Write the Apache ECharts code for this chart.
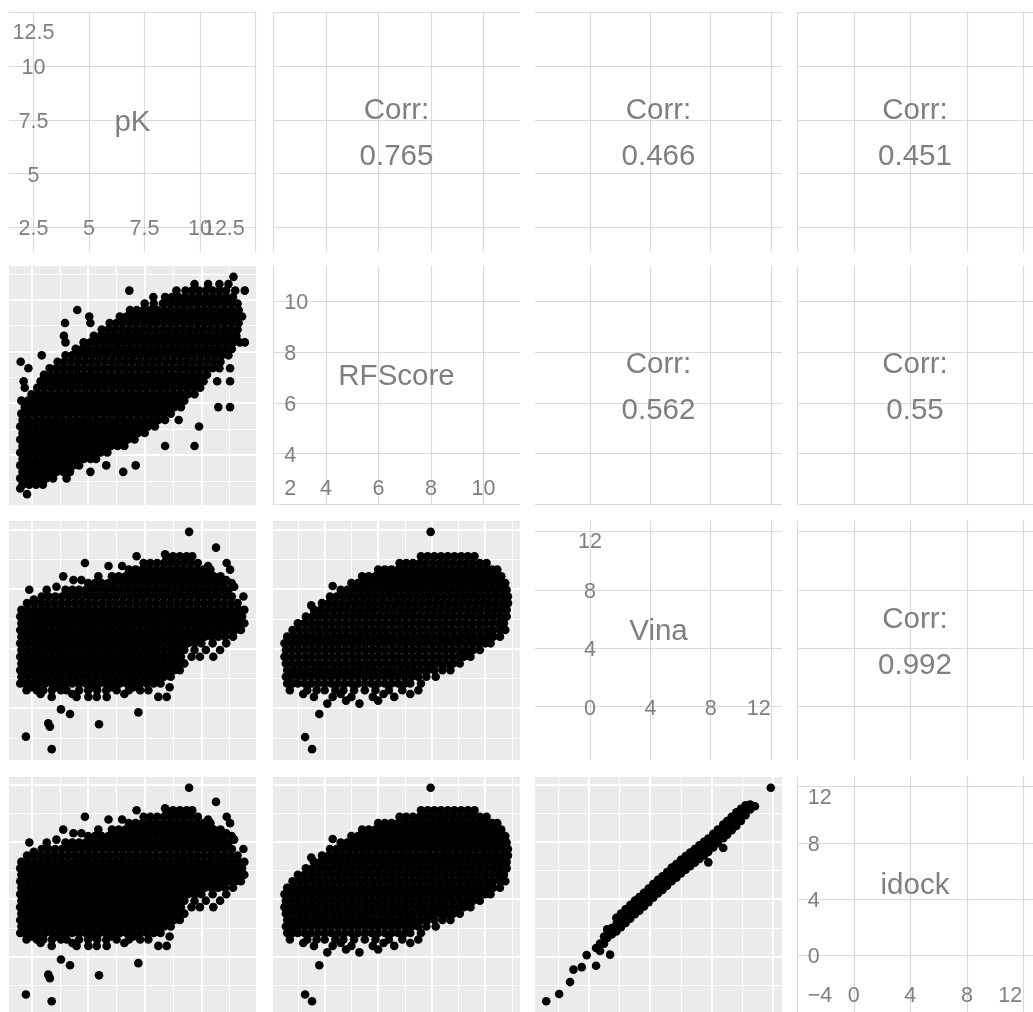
<!DOCTYPE html>
<html><head><meta charset="utf-8"><title>pairs</title>
<script src="https://cdn.jsdelivr.net/npm/echarts@6/dist/echarts.min.js"></script>
<style>html,body{margin:0;padding:0;background:#fff;}#chart{width:1033px;height:1012px;}</style>
</head><body><div id="chart"></div>
<script>
// ---------------- data ----------------
const varNames = ['pK', 'RFScore', 'Vina', 'idock'];
const pkBreaks = [2.5, 5, 7.5, 10, 12.5];
const pkTickLabels = ['2.5', '5', '7.5', '10', '12.5'];
const rfBreaks = [2, 4, 6, 8, 10];
const rfTickLabels = ['2', '4', '6', '8', '10'];
const vinaBreaks = [0, 4, 8, 12];
const vinaTickLabels = ['0', '4', '8', '12'];
const idockBreaks = [-4, 0, 4, 8, 12];
const idockTickLabels = ['\u22124', '0', '4', '8', '12'];
const corrPairs = [[0, 1], [0, 2], [0, 3], [1, 2], [1, 3], [2, 3]];
const corrValues = ['0.765', '0.466', '0.451', '0.562', '0.55', '0.992'];

// pK (x) vs RFScore (y): each row = [RFScore, pK, pK, ...]
const p21Rows = [
[2.49, 2.3],
[2.71, 2.0],
[2.85, 2.1,2.4,2.7,3.0],
[3.1, 2.0,2.25,2.55,2.85,3.15,3.45,4.05],
[3.35, 2.1,2.4,2.7,3.0,3.3,3.6,3.9,4.2,5.1,6.55],
[3.6, 2.0,2.25,2.55,2.85,3.15,3.45,3.75,4.05,4.35,4.6,5.8,7.1],
[3.85, 2.1,2.4,2.7,3.0,3.3,3.6,3.9,4.2,4.5,4.8,5.1,5.35],
[4.1, 2.0,2.25,2.55,2.85,3.15,3.45,3.75,4.05,4.35,4.65,4.95,5.25,5.55,5.85],
[4.35, 2.1,2.4,2.7,3.0,3.3,3.6,3.9,4.2,4.5,4.8,5.1,5.4,5.7,6.0,6.3,6.6,8.4,9.7],
[4.6, 2.0,2.25,2.55,2.85,3.15,3.45,3.75,4.05,4.35,4.65,4.95,5.25,5.55,5.85,6.15,6.45,6.75,7.05],
[4.85, 2.1,2.4,2.7,3.0,3.3,3.6,3.9,4.2,4.5,4.8,5.1,5.4,5.7,6.0,6.3,6.6,6.9,7.2,7.5],
[5.1, 2.0,2.25,2.55,2.85,3.15,3.45,3.75,4.05,4.35,4.65,4.95,5.25,5.55,5.85,6.15,6.45,6.75,7.05,7.35,7.65,7.95,9.9],
[5.35, 2.1,2.4,2.7,3.0,3.3,3.6,3.9,4.2,4.5,4.8,5.1,5.4,5.7,6.0,6.3,6.6,6.9,7.2,7.5,7.8,8.1,8.4,9.0],
[5.6, 2.05,2.35,2.65,2.95,3.25,3.55,3.85,4.15,4.45,4.75,5.05,5.35,5.65,5.95,6.25,6.55,6.85,7.15,7.45,7.75,8.05,8.35,8.65],
[5.85, 2.2,2.5,2.8,3.1,3.4,3.7,4.0,4.3,4.6,4.9,5.2,5.5,5.8,6.1,6.4,6.7,7.0,7.3,7.6,7.9,8.2,8.5,8.8,9.1,10.75,11.27],
[6.1, 2.05,2.35,2.65,2.95,3.25,3.55,3.85,4.15,4.45,4.75,5.05,5.35,5.65,5.95,6.25,6.55,6.85,7.15,7.45,7.75,8.05,8.35,8.65,8.95,9.25],
[6.35, 2.5,2.8,3.1,3.4,3.7,4.0,4.3,4.6,4.9,5.2,5.5,5.8,6.1,6.4,6.7,7.0,7.3,7.6,7.9,8.2,8.5,8.8,9.1,9.4,9.7],
[6.6, 2.2,2.75,3.05,3.35,3.65,3.95,4.25,4.55,4.85,5.15,5.45,5.75,6.05,6.35,6.65,6.95,7.25,7.55,7.85,8.15,8.45,8.75,9.05,9.35,9.65,9.95],
[6.85, 2.15,2.9,3.2,3.5,3.8,4.1,4.4,4.7,5.0,5.3,5.6,5.9,6.2,6.5,6.8,7.1,7.4,7.7,8.0,8.3,8.6,8.9,9.2,9.5,9.8,10.1,10.7,11.27],
[7.1, 3.05,3.35,3.65,3.95,4.25,4.55,4.85,5.15,5.45,5.75,6.05,6.35,6.65,6.95,7.25,7.55,7.85,8.15,8.45,8.75,9.05,9.35,9.65,9.95,10.25],
[7.35, 2.36,3.3,3.6,3.9,4.2,4.5,4.8,5.1,5.4,5.7,6.0,6.3,6.6,6.9,7.2,7.5,7.8,8.1,8.4,8.7,9.0,9.3,9.6,9.9,10.2,10.5,10.8,11.27],
[7.6, 2.02,3.65,3.95,4.25,4.55,4.85,5.15,5.45,5.75,6.05,6.35,6.65,6.95,7.25,7.55,7.85,8.15,8.45,8.75,9.05,9.35,9.65,9.95,10.25,10.55,10.85],
[7.85, 2.95,4.0,4.3,4.6,4.9,5.2,5.5,5.8,6.1,6.4,6.7,7.0,7.3,7.6,7.9,8.2,8.5,8.8,9.1,9.4,9.7,10.0,10.3,10.6,10.9,11.2],
[8.1, 4.45,4.75,5.05,5.35,5.65,5.95,6.25,6.55,6.85,7.15,7.45,7.75,8.05,8.35,8.65,8.95,9.25,9.55,9.85,10.15,10.45,10.75,11.05,11.35],
[8.35, 4.0,4.8,5.1,5.4,5.7,6.0,6.3,6.6,6.9,7.2,7.5,7.8,8.1,8.4,8.7,9.0,9.3,9.6,9.9,10.2,10.5,10.8,11.1,11.4,11.7,11.92],
[8.6, 3.93,5.25,5.55,5.85,6.15,6.45,6.75,7.05,7.35,7.65,7.95,8.25,8.55,8.85,9.15,9.45,9.75,10.05,10.35,10.65,10.95,11.25,11.55],
[8.85, 5.6,5.9,6.2,6.5,6.8,7.1,7.4,7.7,8.0,8.3,8.6,8.9,9.2,9.5,9.8,10.1,10.4,10.7,11.0,11.3,11.6],
[9.1, 3.98,5.1,5.95,6.25,6.55,6.85,7.15,7.45,7.75,8.05,8.35,8.65,8.95,9.25,9.55,9.85,10.15,10.45,10.75,11.05,11.35,11.65],
[9.35, 5.05,6.4,6.7,7.0,7.3,7.6,7.9,8.2,8.5,8.8,9.1,9.4,9.7,10.0,10.3,10.6,10.9,11.2,11.5,11.8],
[9.6, 4.52,6.85,7.15,7.45,7.75,8.05,8.35,8.65,8.95,9.25,9.55,9.85,10.15,10.45,10.75,11.05,11.35,11.65],
[9.85, 7.5,7.9,8.3,8.6,8.9,9.2,9.5,9.8,10.1,10.4,10.7,11.0,11.3,11.6],
[10.1, 7.88,8.4,8.7,9.0,9.3,9.6,9.9,10.2,10.5,10.8,11.1,11.4],
[10.35, 6.82,8.9,9.3,9.6,9.9,10.2,10.5,10.8,11.1,11.5,11.92],
[10.6, 9.7,10.3,10.8,11.2],
[10.88, 11.42]
];

// pK (x) vs Vina / idock (y): each row = [Vina, idock, pK, pK, ...]
const p31Rows = [
[11.84,11.77, 9.46],
[10.78,10.78, 10.65],
[10.33,10.33, 8.4],
[10.2,10.2, 7.14,8.45,8.75,9.05,9.35,9.6],
[9.75,9.75, 4.86,7.45,7.75,8.05,8.35,8.65,8.95,9.25,9.55,9.85,11.12],
[9.55,9.55, 5.9,6.5,10.3],
[9.3,9.3, 6.8,7.1,7.4,7.7,8.0,8.3,8.6,8.9,9.2,9.5,9.8,10.1,10.4,11.27],
[8.85,8.85, 3.9,5.45,6.05,6.35,6.65,6.95,7.25,7.55,7.85,8.15,8.45,8.75,9.05,9.35,9.65,9.95,10.25,10.55,10.85],
[8.6,8.6, 4.35,4.7,11.1],
[8.4,8.4, 5.0,5.3,5.6,5.9,6.2,6.5,6.8,7.1,7.4,7.7,8.0,8.3,8.6,8.9,9.2,9.5,9.8,10.1,10.4,10.7,11.0,11.34],
[8.15,8.15, 3.6,11.45],
[7.95,7.95, 2.4,3.17,4.0,4.3,4.6,4.9,5.2,5.5,5.8,6.1,6.4,6.7,7.0,7.3,7.6,7.9,8.2,8.5,8.8,9.1,9.4,9.7,10.0,10.3,10.6,10.9,11.2],
[7.5,7.5, 2.95,3.25,3.55,3.85,4.15,4.45,4.75,5.05,5.35,5.65,5.95,6.25,6.55,6.85,7.15,7.45,7.75,8.05,8.35,8.65,8.95,9.25,9.55,9.85,10.15,10.45,10.75,11.05,11.35,11.86],
[7.3,7.3, 2.6],
[7.05,7.05, 2.3,2.6,2.9,3.2,3.5,3.8,4.1,4.4,4.7,5.0,5.3,5.6,5.9,6.2,6.5,6.8,7.1,7.4,7.7,8.0,8.3,8.6,8.9,9.2,9.5,9.8,10.1,10.4,10.7,11.0,11.3,11.6],
[6.6,6.6, 2.05,2.35,2.65,2.95,3.25,3.55,3.85,4.15,4.45,4.75,5.05,5.35,5.65,5.95,6.25,6.55,6.85,7.15,7.45,7.75,8.05,8.35,8.65,8.95,9.25,9.55,9.85,10.15,10.45,10.75,11.05,11.35,11.65,11.9],
[6.15,6.15, 2.0,2.2,2.5,2.8,3.1,3.4,3.7,4.0,4.3,4.6,4.9,5.2,5.5,5.8,6.1,6.4,6.7,7.0,7.3,7.6,7.9,8.2,8.5,8.8,9.1,9.4,9.7,10.0,10.3,10.6,10.9,11.2,11.5,11.8],
[5.7,5.7, 2.05,2.35,2.65,2.95,3.25,3.55,3.85,4.15,4.45,4.75,5.05,5.35,5.65,5.95,6.25,6.55,6.85,7.15,7.45,7.75,8.05,8.35,8.65,8.95,9.25,9.55,9.85,10.15,10.45,10.75,11.05,11.35,11.65,11.9],
[5.25,5.25, 2.0,2.2,2.5,2.8,3.1,3.4,3.7,4.0,4.3,4.6,4.9,5.2,5.5,5.8,6.1,6.4,6.7,7.0,7.3,7.6,7.9,8.2,8.5,8.8,9.1,9.4,9.7,10.0,10.3,10.6,10.9,11.2,11.5,11.75],
[4.8,4.8, 2.05,2.35,2.65,2.95,3.25,3.55,3.85,4.15,4.45,4.75,5.05,5.35,5.65,5.95,6.25,6.55,6.85,7.15,7.45,7.75,8.05,8.35,8.65,8.95,9.25,9.55,9.85,10.15,10.45,10.75,11.05,11.4],
[4.35,4.35, 2.0,2.2,2.5,2.8,3.1,3.4,3.7,4.0,4.3,4.6,4.9,5.2,5.5,5.8,6.1,6.4,6.7,7.0,7.3,7.6,7.9,8.2,8.5,8.8,9.1,9.4,9.7,10.0,10.5,11.1],
[3.9,3.9, 2.05,2.35,2.65,2.95,3.25,3.55,3.85,4.15,4.45,4.75,5.05,5.35,5.65,5.95,6.25,6.55,6.85,7.15,7.45,7.75,8.05,8.35,8.65,8.95,9.25,9.7,10.2,10.83],
[3.45,3.45, 2.0,2.2,2.5,2.8,3.1,3.4,3.7,4.0,4.3,4.6,4.9,5.2,5.5,5.8,6.1,6.4,6.7,7.0,7.3,7.6,7.9,8.2,8.5,8.8,9.1,9.57,9.94,10.53],
[3.0,3.0, 2.05,2.35,2.65,2.95,3.25,3.55,3.85,4.15,4.45,4.75,5.05,5.35,5.65,5.95,6.25,6.55,6.85,7.15,7.45,7.75,8.05,8.35,8.65,8.95,9.25],
[2.55,2.55, 2.0,2.2,2.5,2.8,3.1,3.4,3.7,4.0,4.3,4.6,4.9,5.2,5.5,5.8,6.1,6.4,6.7,7.0,7.3,7.6,7.9,8.2,8.5,8.8,9.05],
[2.1,2.1, 2.05,2.35,2.65,2.95,3.25,3.55,3.85,4.15,4.45,4.75,5.05,5.35,5.65,5.95,6.25,6.55,6.85,7.15,7.45,7.75,8.05,8.35,8.65],
[1.65,1.65, 2.0,2.2,2.5,2.8,3.1,3.4,3.7,4.0,4.3,4.6,4.9,5.2,5.5,5.8,6.1,6.4,6.7,7.0,7.3,7.6,7.9,8.2],
[1.4,1.4, 2.5,3.6,5.2,6.0,7.0,8.6],
[1.2,1.2, 2.28,2.73,3.02,3.4,3.8,4.05,4.6,5.0,5.4,5.8,6.26,6.8,7.3,7.66],
[0.95,0.95, 2.9,4.3,6.6],
[0.75,0.75, 3.39,4.49,5.01,5.38,5.82,8.1,8.47],
[-0.09,-0.2, 3.8],
[-0.29,-0.45, 7.22],
[-0.4,-0.6, 4.2],
[-1.03,-1.25, 3.24],
[-1.09,-1.3, 5.48],
[-1.25,-1.5, 3.31],
[-1.92,-2.64, 2.25],
[-2.76,-3.11, 3.39]
];

// RFScore (x) vs Vina / idock (y): each row = [Vina, idock, RFScore, RFScore, ...]
const p32Rows = [
[11.84,11.77, 7.96],
[10.2,10.2, 7.6,7.85,8.1,8.35,8.6,8.85,9.1,9.35,9.6],
[9.75,9.75, 6.8,7.05,7.3,7.55,7.8,8.05,8.3,8.55,8.8,9.05,9.3,9.55,9.8,10.05],
[9.3,9.3, 6.0,6.25,6.5,6.75,7.0,7.25,7.5,7.75,8.0,8.25,8.5,8.75,9.0,9.25,9.5,9.75,10.0,10.25,10.45],
[8.85,8.85, 5.4,5.65,5.9,6.15,6.4,6.65,6.9,7.15,7.4,7.65,7.9,8.15,8.4,8.65,8.9,9.15,9.4,9.65,9.9,10.15,10.4,10.6],
[8.4,8.4, 5.0,5.25,5.5,5.75,6.0,6.25,6.5,6.75,7.0,7.25,7.5,7.75,8.0,8.25,8.5,8.75,9.0,9.25,9.5,9.75,10.0,10.25,10.5,10.75],
[8.2,8.2, 4.3],
[7.95,7.95, 4.6,4.85,5.1,5.35,5.6,5.85,6.1,6.35,6.6,6.85,7.1,7.35,7.6,7.85,8.1,8.35,8.6,8.85,9.1,9.35,9.6,9.85,10.1,10.35,10.6,10.8],
[7.5,7.5, 4.2,4.45,4.7,4.95,5.2,5.45,5.7,5.95,6.2,6.45,6.7,6.95,7.2,7.45,7.7,7.95,8.2,8.45,8.7,8.95,9.2,9.45,9.7,9.95,10.2,10.45,10.7,10.85],
[7.05,7.05, 3.9,4.15,4.4,4.65,4.9,5.15,5.4,5.65,5.9,6.15,6.4,6.65,6.9,7.15,7.4,7.65,7.9,8.15,8.4,8.65,8.9,9.15,9.4,9.65,9.9,10.15,10.4,10.65,10.85],
[6.9,6.9, 3.5],
[6.6,6.6, 3.6,3.85,4.1,4.35,4.6,4.85,5.1,5.35,5.6,5.85,6.1,6.35,6.6,6.85,7.1,7.35,7.6,7.85,8.1,8.35,8.6,8.85,9.1,9.35,9.6,9.85,10.1,10.35,10.6,10.8],
[6.15,6.15, 3.3,3.55,3.8,4.05,4.3,4.55,4.8,5.05,5.3,5.55,5.8,6.05,6.3,6.55,6.8,7.05,7.3,7.55,7.8,8.05,8.3,8.55,8.8,9.05,9.3,9.55,9.8,10.05,10.3,10.55,10.8],
[5.7,5.7, 3.0,3.25,3.5,3.75,4.0,4.25,4.5,4.75,5.0,5.25,5.5,5.75,6.0,6.25,6.5,6.75,7.0,7.25,7.5,7.75,8.0,8.25,8.5,8.75,9.0,9.25,9.5,9.75,10.0,10.25,10.5,10.7],
[5.25,5.25, 2.8,3.05,3.3,3.55,3.8,4.05,4.3,4.55,4.8,5.05,5.3,5.55,5.8,6.05,6.3,6.55,6.8,7.05,7.3,7.55,7.8,8.05,8.3,8.55,8.8,9.05,9.3,9.55,9.8,10.05,10.3,10.55,10.75],
[4.8,4.8, 2.6,2.85,3.1,3.35,3.6,3.85,4.1,4.35,4.6,4.85,5.1,5.35,5.6,5.85,6.1,6.35,6.6,6.85,7.1,7.35,7.6,7.85,8.1,8.35,8.6,8.85,9.1,9.35,9.6,9.85,10.1,10.3,10.55],
[4.35,4.35, 2.5,2.75,3.0,3.25,3.5,3.75,4.0,4.25,4.5,4.75,5.0,5.25,5.5,5.75,6.0,6.25,6.5,6.75,7.0,7.25,7.5,7.75,8.0,8.25,8.5,8.75,9.0,9.25,9.5,9.75,10.0,10.2],
[3.9,3.9, 2.55,2.8,3.05,3.3,3.55,3.8,4.05,4.3,4.55,4.8,5.05,5.3,5.55,5.8,6.05,6.3,6.55,6.8,7.05,7.3,7.55,7.8,8.05,8.3,8.55,8.8,9.05,9.3,9.55,9.8],
[3.45,3.45, 2.5,2.75,3.0,3.25,3.5,3.75,4.0,4.25,4.5,4.75,5.0,5.25,5.5,5.75,6.0,6.25,6.5,6.75,7.0,7.25,7.5,7.75,8.0,8.25,8.5,8.75,9.0,9.2,9.45],
[3.0,3.0, 2.55,2.8,3.05,3.3,3.55,3.8,4.05,4.3,4.55,4.8,5.05,5.3,5.55,5.8,6.05,6.3,6.55,6.8,7.05,7.3,7.55,7.8,8.05,8.3,8.55,8.8,9.05],
[2.55,2.55, 2.6,2.85,3.1,3.35,3.6,3.85,4.1,4.35,4.6,4.85,5.1,5.35,5.6,5.85,6.1,6.35,6.6,6.85,7.1,7.35,7.6,7.85,8.1,8.4,8.7],
[2.1,2.1, 2.55,2.75,3.0,3.25,3.5,3.75,4.0,4.25,4.5,4.75,5.0,5.25,5.5,5.75,6.0,6.25,6.5,6.75,7.0,7.25,7.5,7.8,8.15],
[1.65,1.65, 2.6,2.8,3.0,3.25,3.5,3.75,4.0,4.25,4.5,4.75,5.0,5.25,5.5,5.75,6.0,6.25,6.5,6.75,7.0,7.2,7.6],
[1.2,1.2, 2.7,3.35,3.7,4.0,4.4,4.7,5.1,5.5,5.9,6.4,6.9,7.5],
[0.95,0.95, 3.2,4.6,6.2,7.2],
[0.75,0.75, 3.6,4.3,5.0,5.8,6.6],
[0.5,0.5, 4.8,6.0],
[0.3,0.3, 4.1,5.3],
[-0.4,-0.6, 3.8],
[-1.95,-2.64, 3.27],
[-2.76,-3.11, 3.53]
];

// Vina (x) vs idock (y): each row = [Vina, idock, idock, ...]
const p43Rows = [
[-2.76, -3.11],
[-1.92, -2.6],
[-1.21, -1.77],
[-0.99, -0.9],
[-0.45, -0.73],
[-0.13, 0.11],
[0.48, -0.63, 0.6],
[0.74, 0.4, 0.92],
[1.0, 0.9, 1.4],
[1.2, 1.3, 1.9],
[1.39, 0.14, 1.6],
[1.5, 1.55, 2.0],
[1.8, 1.75, 2.25, 2.7],
[2.1, 2.05, 2.55, 3.0],
[2.4, 2.35, 2.85, 3.3],
[2.7, 2.65, 3.15, 3.6],
[3.0, 2.95, 3.45, 3.9],
[3.3, 3.2, 3.7, 4.15],
[3.6, 3.5, 4.0, 4.45],
[3.9, 3.8, 4.3, 4.75],
[4.2, 4.1, 4.6, 5.05],
[4.5, 4.4, 4.9, 5.35],
[4.8, 4.65, 5.15, 5.6],
[5.1, 4.95, 5.45, 5.9],
[5.4, 5.25, 5.75, 6.2],
[5.7, 5.5, 6.0, 6.45],
[6.0, 5.8, 6.3, 6.75],
[6.3, 6.05, 6.55, 7.0],
[6.6, 6.3, 6.8, 7.25],
[6.9, 6.55, 7.05, 7.5],
[7.2, 6.8, 7.3, 7.75],
[7.5, 7.05, 7.55, 8.0],
[7.78, 6.57, 7.3, 7.78, 8.22],
[8.1, 7.6, 8.1, 8.55],
[8.4, 7.9, 8.4, 8.85],
[8.75, 7.57, 8.25, 8.75, 9.2],
[9.0, 8.5, 9.0, 9.45],
[9.3, 8.8, 9.3, 9.75],
[9.6, 9.1, 9.6, 10.05],
[9.9, 9.45, 9.9, 10.3],
[10.2, 9.85, 10.2, 10.55],
[10.5, 10.25, 10.6],
[10.81, 10.48],
[11.84, 11.77]
];

// ---------------- layout & style ----------------
const colLeft = [9, 273, 535, 797];
const rowTop = [12, 266, 521, 777];
const panelW = 247, panelH = 239;
const FONT = '"Liberation Sans", Arial, Helvetica, sans-serif';
const TEXT_GREY = '#7F7F7F';
const DIAG_GRID = '#DADADA';
const PANEL_BG = '#EBEBEB';
const TEXT_DY = 2;

// ---------------- build points ----------------
const pts21 = [], pts31 = [], pts41 = [], pts32 = [], pts42 = [], pts43 = [];
p21Rows.forEach(r => r.slice(1).forEach(x => pts21.push([x, r[0]])));
p31Rows.forEach(r => r.slice(2).forEach(x => { pts31.push([x, r[0]]); pts41.push([x, r[1]]); }));
p32Rows.forEach(r => r.slice(2).forEach(x => { pts32.push([x, r[0]]); pts42.push([x, r[1]]); }));
p43Rows.forEach(r => r.slice(1).forEach(y => pts43.push([r[0], y])));

const col = (arr, k) => arr.map(p => p[k]);
const extentOf = vals => [Math.min.apply(null, vals), Math.max.apply(null, vals)];
const extents = [
  extentOf(col(pts21, 0).concat(col(pts31, 0))),
  extentOf(col(pts21, 1).concat(col(pts32, 0))),
  extentOf(col(pts31, 1).concat(col(pts32, 1), col(pts43, 0))),
  extentOf(col(pts41, 1).concat(col(pts42, 1), col(pts43, 1)))
];
const breaks = [pkBreaks, rfBreaks, vinaBreaks, idockBreaks];
const tickLabels = [pkTickLabels, rfTickLabels, vinaTickLabels, idockTickLabels];
const panelPoints = { '1,0': pts21, '2,0': pts31, '3,0': pts41, '2,1': pts32, '3,1': pts42, '3,2': pts43 };

function scatterRange(e) { const d = e[1] - e[0]; return [e[0] - 0.05 * d, e[1] + 0.05 * d]; }
function textRange(e) { const d = e[1] - e[0]; return [e[0] - 0.01 * d, e[1] + 0.01 * d]; }
function diagRange(e) { const r = textRange(e); const d = r[1] - r[0]; return [r[0] - 0.05 * d, r[1] + 0.05 * d]; }
const inRange = (v, r) => v >= r[0] - 1e-9 && v <= r[1] + 1e-9;

function majorLines(k, r) { return breaks[k].filter(b => inRange(b, r)); }
function minorLines(k, r) {
  const b = breaks[k], s = b[1] - b[0];
  const c = [b[0] - s / 2].concat(b.map(v => v + s / 2));
  return c.filter(v => inRange(v, r));
}

function diagTextItems(k) {
  const e = extents[k];
  const tr = textRange(e), lo = tr[0], hi = tr[1];
  const r = diagRange(e);
  const idx = breaks[k].map((b, n) => n).filter(n => inRange(breaks[k][n], r));
  const b1 = breaks[k][idx[0]];
  const items = [];
  const make = (x, y, text) => {
    let ha = 'center', vOff = TEXT_DY;
    if (x < lo) { x = lo; ha = 'left'; } else if (x > hi) { x = hi; ha = 'right'; }
    if (y < lo) { y = lo; vOff = TEXT_DY - 7; } else if (y > hi) { y = hi; vOff = TEXT_DY + 8; }
    items.push({ value: [x, y], label: { formatter: text, align: ha, offset: [0, vOff] } });
  };
  idx.slice(1).forEach(n => make(b1, breaks[k][n], tickLabels[k][n]));
  idx.forEach(n => make(breaks[k][n], b1, tickLabels[k][n]));
  items.push({ value: [lo + 0.5 * (hi - lo), lo + 0.55 * (hi - lo)],
    label: { formatter: varNames[k], fontSize: 29.5, align: 'center', offset: [0, TEXT_DY] } });
  return items;
}

const grids = [], xAxes = [], yAxes = [], series = [];
for (let i = 0; i < 4; i++) {
  for (let j = 0; j < 4; j++) {
    const idx = i * 4 + j;
    const lower = i > j, diag = i === j;
    grids.push({ left: colLeft[j], top: rowTop[i], width: panelW, height: panelH,
      show: lower, backgroundColor: PANEL_BG, borderWidth: 0, borderColor: 'transparent' });
    const xr = lower ? scatterRange(extents[j]) : diagRange(extents[j]);
    const yr = lower ? scatterRange(extents[i]) : diagRange(extents[i]);
    xAxes.push({ type: 'value', gridIndex: idx, min: xr[0], max: xr[1], show: false });
    yAxes.push({ type: 'value', gridIndex: idx, min: yr[0], max: yr[1], show: false });

    const lineItems = [];
    if (lower) {
      minorLines(j, xr).forEach(v => lineItems.push({ xAxis: v, lineStyle: { color: '#FFFFFF', width: 1.05, type: 'solid' } }));
      minorLines(i, yr).forEach(v => lineItems.push({ yAxis: v, lineStyle: { color: '#FFFFFF', width: 1.05, type: 'solid' } }));
      majorLines(j, xr).forEach(v => lineItems.push({ xAxis: v, lineStyle: { color: '#FFFFFF', width: 2.1, type: 'solid' } }));
      majorLines(i, yr).forEach(v => lineItems.push({ yAxis: v, lineStyle: { color: '#FFFFFF', width: 2.1, type: 'solid' } }));
    } else {
      majorLines(j, xr).forEach(v => lineItems.push({ xAxis: v, lineStyle: { color: DIAG_GRID, width: 1.2, type: 'solid' } }));
      majorLines(i, yr).forEach(v => lineItems.push({ yAxis: v, lineStyle: { color: DIAG_GRID, width: 1.2, type: 'solid' } }));
    }
    series.push({ type: 'scatter', xAxisIndex: idx, yAxisIndex: idx, data: [], z: 1, silent: true,
      markLine: { z: 1, zlevel: 0, silent: true, symbol: ['none', 'none'], label: { show: false }, animation: false,
        emphasis: { disabled: true }, data: lineItems } });

    if (lower) {
      series.push({ type: 'scatter', xAxisIndex: idx, yAxisIndex: idx, z: 4, silent: true,
        symbol: 'circle', symbolSize: 8.6, itemStyle: { color: '#000000', opacity: 1 },
        emphasis: { disabled: true }, data: panelPoints[i + ',' + j] });
    } else {
      let items;
      if (diag) {
        items = diagTextItems(i);
      } else {
        const n = corrPairs.findIndex(p => p[0] === i && p[1] === j);
        items = [{ value: [(xr[0] + xr[1]) / 2, (yr[0] + yr[1]) / 2],
          label: { formatter: 'Corr:\n' + corrValues[n], fontSize: 29.5, lineHeight: 46, align: 'center', offset: [0, TEXT_DY] } }];
      }
      series.push({ type: 'scatter', xAxisIndex: idx, yAxisIndex: idx, z: 5, silent: true, clip: false,
        symbolSize: 1, itemStyle: { color: 'rgba(0,0,0,0)', opacity: 1 }, emphasis: { disabled: true },
        label: { show: true, position: 'inside', color: TEXT_GREY, fontFamily: FONT, fontSize: 21.5,
          verticalAlign: 'middle' },
        data: items });
    }
  }
}

const chart = echarts.init(document.getElementById('chart'), null, { renderer: 'canvas', width: 1033, height: 1012 });
chart.setOption({ animation: false, backgroundColor: '#FFFFFF', grid: grids, xAxis: xAxes, yAxis: yAxes, series: series });
</script>
</body></html>
